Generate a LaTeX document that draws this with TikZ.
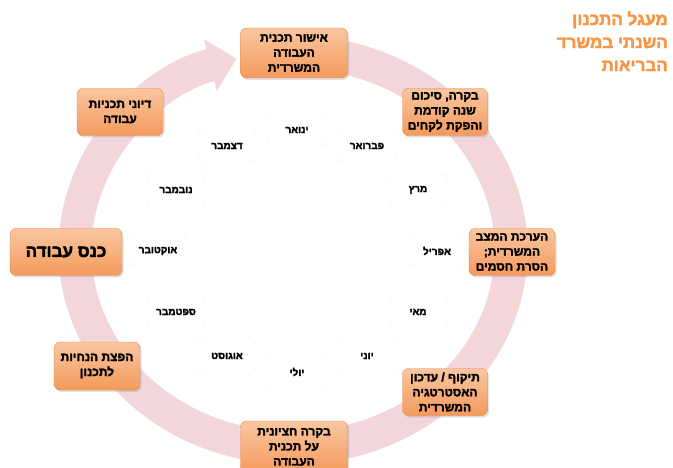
\documentclass[tikz,border=0pt]{standalone}
\usepackage{fontspec}
\newfontfamily\hebfont[Script=Hebrew, BoldFont={Liberation Sans Bold}, BoldFeatures={FakeBold=2.5}]{Liberation Sans}
\TeXXeTstate=1
\usetikzlibrary{arrows.meta, shadows}
\definecolor{ringpink}{HTML}{F3D6D9}
\definecolor{orgtop}{HTML}{F9C6A0}
\definecolor{orgbot}{HTML}{F49A5C}
\definecolor{orgline}{HTML}{E8874A}
\definecolor{titleorg}{HTML}{F79646}
\newcommand{\heb}[1]{{\hebfont\bfseries\beginR #1\endR}}
\tikzset{
  every picture/.style={line cap=round, line join=round},
  ring/.style={ringpink, line width=33pt, line cap=butt, -{Triangle[length=27pt, width=52pt]}},
  stage/.style={draw=orgline, thin, top color=orgtop, bottom color=orgbot, rounded corners=6pt,
    inner sep=0pt, align=center, font=\fontsize{12}{15}\selectfont,
    drop shadow={shadow xshift=1.5pt, shadow yshift=-2pt, opacity=0.25}},
  month/.style={draw=gray!12, fill=white, rounded corners=4pt, minimum width=58pt,
    minimum height=32pt, inner sep=0pt, font=\fontsize{10}{12}\selectfont},
}
\begin{document}
\begin{tikzpicture}[x=1pt, y=-1pt]
  \useasboundingbox (0,0) rectangle (673,468);
  \clip (0,0) rectangle (673,468);
  % the yearly ring
  \coordinate (ringc) at (293,250);
  \draw[ring] (ringc) ++(-78:218 and 198) arc[start angle=-78, end angle=255, x radius=218, y radius=198];
  % stages of the plan
  \node[stage, minimum width=107pt, minimum height=50pt] (approve) at (294,53)
    {\heb{אישור תכנית}\\\heb{העבודה}\\\heb{המשרדית}};
  \node[stage, minimum width=85pt, minimum height=47pt] (review) at (445,112)
    {\heb{בקרה, סיכום}\\\heb{שנה קודמת}\\\heb{והפקת לקחים}};
  \node[stage, minimum width=86pt, minimum height=47pt] (assess) at (512,252)
    {\heb{הערכת המצב}\\\heb{המשרדית;}\\\heb{הסרת חסמים}};
  \node[stage, minimum width=85pt, minimum height=47pt] (validate) at (445,392)
    {\heb{תיקוף / עדכון}\\\heb{האסטרטגיה}\\\heb{המשרדית}};
  \node[stage, minimum width=107pt, minimum height=52pt] (midreview) at (294,447)
    {\heb{בקרה חציונית}\\\heb{על תכנית}\\\heb{העבודה}};
  \node[stage, minimum width=86pt, minimum height=48pt] (guidelines) at (97,366)
    {\heb{הפצת הנחיות}\\\heb{לתכנון}};
  \node[stage, minimum width=112pt, minimum height=47pt, font=\fontsize{17}{20}\selectfont]
    (conference) at (66,252) {\heb{כנס עבודה}};
  \node[stage, minimum width=86pt, minimum height=47pt] (discuss) at (120,112)
    {\heb{דיוני תכניות}\\\heb{עבודה}};
  % months
  \node[month] (jan) at (297,130) {\heb{ינואר}};
  \node[month] (feb) at (367,146) {\heb{פברואר}};
  \node[month] (mar) at (418,190) {\heb{מרץ}};
  \node[month] (apr) at (437,251) {\heb{אפריל}};
  \node[month] (may) at (418,312) {\heb{מאי}};
  \node[month] (jun) at (367,356) {\heb{יוני}};
  \node[month] (jul) at (297,372) {\heb{יולי}};
  \node[month] (aug) at (227,356) {\heb{אוגוסט}};
  \node[month] (sep) at (176,312) {\heb{ספטמבר}};
  \node[month] (oct) at (158,251) {\heb{אוקטובר}};
  \node[month] (nov) at (176,190) {\heb{נובמבר}};
  \node[month] (dec) at (227,146) {\heb{דצמבר}};
  % title
  \node[anchor=north east, inner sep=0pt, align=right, text=titleorg,
    font=\fontsize{17}{23}\selectfont] (title) at (668,11)
    {\heb{מעגל התכנון}\\\heb{השנתי במשרד}\\\heb{הבריאות}};
\end{tikzpicture}
\end{document}
